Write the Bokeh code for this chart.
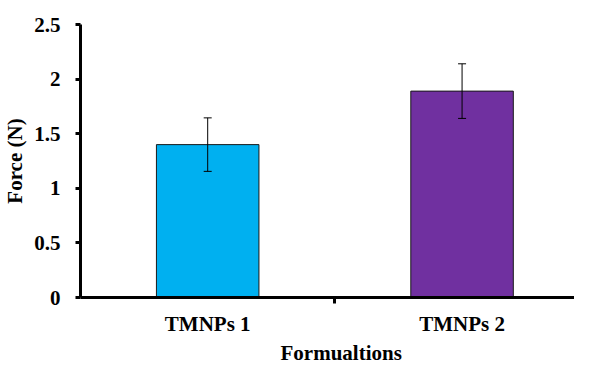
from bokeh.plotting import figure
from bokeh.models import ColumnDataSource, FixedTicker, Whisker, TeeHead, Range1d, Title
from bokeh.embed import file_html
from bokeh.resources import INLINE

# Data
categories = ["TMNPs 1", "TMNPs 2"]
force = [1.40, 1.89]
errors = [0.245, 0.25]
bar_colors = ["#00B0F0", "#7030A0"]
y_ticks = [0, 0.5, 1, 1.5, 2, 2.5]
y_tick_labels = ["0", "0.5", "1", "1.5", "2", "2.5"]
x_title = "Formualtions"
y_title = "Force (N)"

xpos = [i + 0.5 for i in range(len(categories))]
src = ColumnDataSource(dict(
    x=xpos, top=force, color=bar_colors,
    upper=[f + e for f, e in zip(force, errors)],
    lower=[f - e for f, e in zip(force, errors)],
))

FONT = "Liberation Serif"

p = figure(width=574, height=366, output_backend="svg", toolbar_location=None,
           x_range=Range1d(0, 1.942), y_range=Range1d(0, 2.5),
           min_border_left=73, min_border_right=0, min_border_top=24, min_border_bottom=69)
p.outline_line_color = None
p.xgrid.visible = False
p.ygrid.visible = False
p.background_fill_color = "white"
p.border_fill_color = "white"

p.vbar(x="x", top="top", width=0.403, bottom=0, fill_color="color",
       line_color="#1a1a1a", line_width=1, source=src)

w = Whisker(base="x", upper="upper", lower="lower", source=src,
            line_color="black", line_width=1, level="annotation",
            upper_head=TeeHead(size=8, line_color="black", line_width=1),
            lower_head=TeeHead(size=8, line_color="black", line_width=1))
p.add_layout(w)

# y axis
ya = p.yaxis[0]
ya.ticker = FixedTicker(ticks=y_ticks, minor_ticks=[])
ya.major_label_overrides = {t: l for t, l in zip(y_ticks, y_tick_labels)}
ya.axis_label = y_title
ya.axis_line_width = 3
ya.axis_line_color = "black"
ya.major_tick_line_width = 3
ya.major_tick_out = 5
ya.major_tick_in = 0
ya.minor_tick_line_color = None
ya.major_label_text_font = FONT
ya.major_label_text_font_style = "bold"
ya.major_label_text_font_size = "21px"
ya.major_label_text_color = "black"
ya.major_label_standoff = 15
ya.axis_label_text_font = FONT
ya.axis_label_text_font_style = "bold"
ya.axis_label_text_font_size = "21px"
ya.axis_label_text_color = "black"
ya.axis_label_standoff = 4

# x axis
xa = p.xaxis[0]
xa.ticker = FixedTicker(ticks=xpos, minor_ticks=[1.0])
xa.major_label_overrides = {x: c for x, c in zip(xpos, categories)}
xa.axis_line_width = 3
xa.axis_line_color = "black"
xa.major_tick_line_color = None
xa.minor_tick_line_width = 3
xa.minor_tick_line_color = "black"
xa.minor_tick_out = 6
xa.minor_tick_in = 0
xa.major_label_text_font = FONT
xa.major_label_text_font_style = "bold"
xa.major_label_text_font_size = "21px"
xa.major_label_text_color = "black"
xa.major_label_standoff = 8

# x-axis title as a bottom title, below the tick labels
xt = Title(text=x_title, align="left", offset=200, standoff=0,
           text_font=FONT, text_font_style="bold", text_font_size="21px",
           text_color="black")
p.add_layout(xt, "below")

open("out.html", "w").write(file_html(p, INLINE))
